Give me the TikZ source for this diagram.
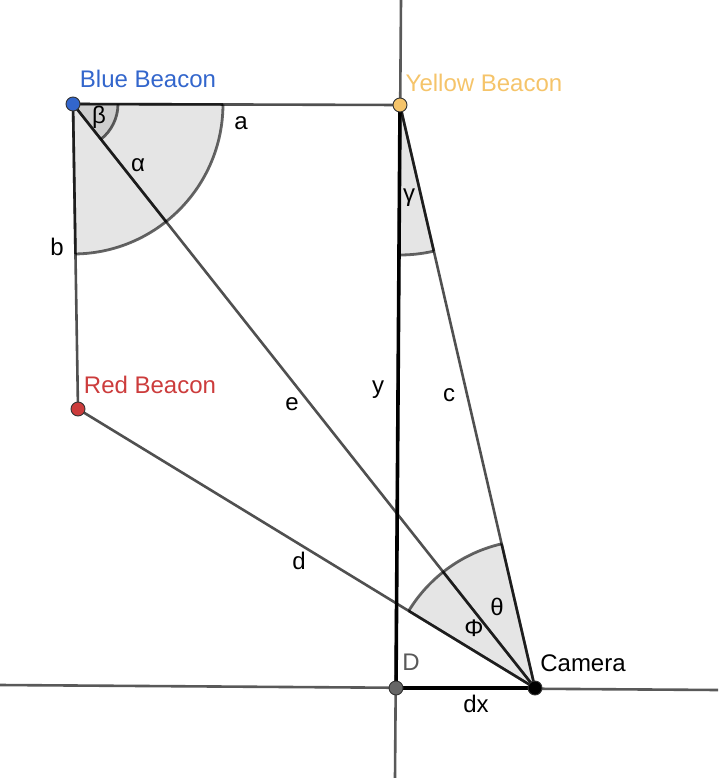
\documentclass[tikz,border=0pt]{standalone}
\usepackage{fontspec}
\setmainfont{Liberation Sans}
\usetikzlibrary{angles,calc}
\definecolor{beaconblue}{HTML}{3366CC}
\definecolor{beaconyellow}{HTML}{F5C46A}
\definecolor{beaconred}{HTML}{CC3C3C}
\definecolor{linegray}{HTML}{505050}

\begin{document}
\begin{tikzpicture}[x=1pt, y=-1pt,
  lbl/.style={font=\fontsize{24}{28}\selectfont, inner sep=1pt},
  seg/.style={linegray, line width=2.6pt},
  boldseg/.style={black, line width=3.6pt},
  axisline/.style={black!65, line width=2.6pt},
  sector/.style={draw=black, draw opacity=0.6, fill=black, fill opacity=0.1, line width=2.8pt},
  sectoredge/.style={black, opacity=0.6, line width=2.6pt},
  dot/.style={circle, draw=black!80, line width=0.9pt, minimum size=14pt, inner sep=0pt}]
  \useasboundingbox (0,0) rectangle (718,778);

  % Points
  \coordinate (B) at (73,104);
  \coordinate (Y) at (400,105);
  \coordinate (R) at (78,409);
  \coordinate (C) at (535,688);
  \coordinate (D) at (396,688);

  % Axes
  \coordinate (axT) at (401,0);
  \coordinate (axB) at (395,778);
  \coordinate (axL) at (0,685);
  \coordinate (axR) at (718,690);
  \draw[axisline] (axT) -- (axB);
  \draw[axisline] (axL) -- (axR);

  % Segments
  \draw[seg] (B) -- (Y);
  \draw[seg] (B) -- (R);
  \draw[seg] (B) -- (C);
  \draw[seg] (Y) -- (C);
  \draw[seg] (R) -- (C);
  \draw[boldseg] (Y) -- (D) -- (C);

  % Angles
  \pic[sector, angle radius=150pt] {angle=R--B--Y};
  \pic[sector, angle radius=45pt] {angle=C--B--Y};
  \pic[sector, angle radius=150pt] {angle=D--Y--C};
  \pic[sector, angle radius=148pt] {angle=Y--C--B};
  \pic[sector, angle radius=148pt] {angle=B--C--R};

  % Sector edges
  \draw[sectoredge] (B) -- ($(B)!150pt!(Y)$);
  \draw[sectoredge] (B) -- ($(B)!150pt!(R)$);
  \draw[sectoredge] (B) -- ($(B)!150pt!(C)$);
  \draw[sectoredge] (Y) -- ($(Y)!150pt!(C)$);
  \draw[sectoredge] (C) -- ($(C)!148pt!(Y)$);
  \draw[sectoredge] (C) -- ($(C)!148pt!(B)$);
  \draw[sectoredge] (C) -- ($(C)!148pt!(R)$);

  % Segment labels
  \node[lbl] (la) at (241,123) {a};
  \node[lbl] (lb) at (57,247) {b};
  \node[lbl] (lc) at (449,395) {c};
  \node[lbl] (ld) at (299,561) {d};
  \node[lbl] (le) at (292,404) {e};
  \node[lbl] (ly) at (378,390) {y};
  \node[lbl] (ldx) at (476,704) {dx};

  % Angle labels
  \node[lbl] (lalpha) at (138,165) {α};
  \node[lbl] (lbeta) at (99,117) {β};
  \node[lbl] (lgamma) at (409,198) {γ};
  \node[lbl] (ltheta) at (497,607) {θ};
  \node[lbl] (lphi) at (474,628) {Φ};

  % Point labels
  \node[lbl, text=beaconblue] (lblue) at (148,79) {Blue Beacon};
  \node[lbl, text=beaconyellow] (lyellow) at (484,83) {Yellow Beacon};
  \node[lbl, text=beaconred] (lred) at (150,385) {Red Beacon};
  \node[lbl, text=black!65] (lD) at (411,662) {D};
  \node[lbl] (lcam) at (583,663) {Camera};

  % Dots
  \node[dot, fill=beaconblue] (nB) at (B) {};
  \node[dot, fill=beaconyellow] (nY) at (Y) {};
  \node[dot, fill=beaconred] (nR) at (R) {};
  \node[dot, fill=black!60] (nD) at (D) {};
  \node[dot, fill=black] (nC) at (C) {};
\end{tikzpicture}
\end{document}
